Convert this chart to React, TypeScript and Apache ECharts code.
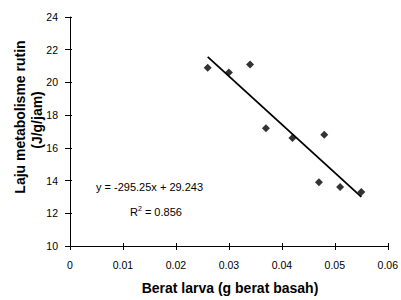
import React, { useEffect, useRef } from "react";
import * as echarts from "echarts";

const xValues = [0.026, 0.030, 0.034, 0.037, 0.042, 0.047, 0.048, 0.051, 0.055];
const yValues = [20.9, 20.6, 21.1, 17.2, 16.6, 13.9, 16.8, 13.6, 13.3];
const slope = -295.25;
const intercept = 29.243;
const equationText = "y = -295.25x + 29.243";
const r2Text = "0.856";
const xTitle = "Berat larva (g berat basah)";
const yTitle1 = "Laju metabolisme rutin";
const yTitle2 = "(J/g/jam)";

export default function App() {
  const ref = useRef<HTMLDivElement>(null);
  useEffect(() => {
    if (!ref.current) return;
    const chart = echarts.init(ref.current, null, { renderer: "svg" });
    const pts = xValues.map((x, i) => [x, yValues[i]]);
    const xMin = Math.min(...xValues);
    const xMax = Math.max(...xValues);
    const fit = [
      [xMin, slope * xMin + intercept],
      [xMax, slope * xMax + intercept],
    ];
    const font = "Liberation Sans, Arial, sans-serif";
    const axisLine = { show: true, lineStyle: { color: "#000", width: 1 } };
    chart.setOption({
      animation: false,
      backgroundColor: "#fff",
      grid: { left: 70, top: 17, right: 10, bottom: 54, containLabel: false },
      xAxis: [
        {
          type: "value",
          min: 0,
          max: 0.06,
          interval: 0.01,
          axisLine,
          axisTick: { show: true, length: 4, lineStyle: { color: "#000" } },
          axisLabel: {
            margin: 13,
            fontSize: 10.5,
            color: "#000",
            fontFamily: font,
            formatter: (v: number) => (v === 0 ? "0" : v.toFixed(2)),
          },
          splitLine: { show: false },
        },
        {
          type: "value",
          position: "bottom",
          min: 0,
          max: 0.06,
          interval: 0.01,
          axisLine: { show: false },
          axisTick: { show: true, inside: true, length: 3, lineStyle: { color: "#000" } },
          axisLabel: { show: false },
          splitLine: { show: false },
        },
      ],
      yAxis: [
        {
          type: "value",
          min: 10,
          max: 24,
          interval: 2,
          axisLine,
          axisTick: { show: true, length: 5, lineStyle: { color: "#000" } },
          axisLabel: { margin: 12, fontSize: 10.5, color: "#000", fontFamily: font },
          splitLine: { show: false },
        },
        {
          type: "value",
          position: "left",
          min: 10,
          max: 24,
          interval: 2,
          axisLine: { show: false },
          axisTick: { show: true, inside: true, length: 2, lineStyle: { color: "#000" } },
          axisLabel: { show: false },
          splitLine: { show: false },
        },
      ],
      series: [
        {
          type: "line",
          data: fit,
          showSymbol: false,
          symbol: "none",
          lineStyle: { color: "#000", width: 1.8 },
          silent: true,
          z: 2,
        },
        {
          type: "scatter",
          data: pts,
          symbol: "diamond",
          symbolSize: 8,
          itemStyle: { color: "#000" },
          z: 3,
        },
      ],
      graphic: [
        {
          type: "text",
          left: 96,
          top: 181,
          style: { text: equationText, fontSize: 11, fill: "#000", fontFamily: font },
        },
        {
          type: "text",
          left: 130,
          top: 205,
          style: {
            text: "R{sup|2} = " + r2Text,
            fontSize: 11,
            fill: "#000",
            fontFamily: font,
            rich: { sup: { fontSize: 7, verticalAlign: "top", padding: [0, 0, 6, 0], fontFamily: font } },
          },
        },
        {
          type: "text",
          x: 230,
          y: 288,
          style: {
            text: xTitle,
            fontSize: 14,
            fontWeight: "bold",
            fill: "#000",
            fontFamily: font,
            align: "center",
            verticalAlign: "middle",
          },
        },
        {
          type: "text",
          x: 20,
          y: 117,
          rotation: Math.PI / 2,
          style: {
            text: yTitle1,
            fontSize: 14,
            fontWeight: "bold",
            fill: "#000",
            fontFamily: font,
            align: "center",
            verticalAlign: "middle",
          },
        },
        {
          type: "text",
          x: 37,
          y: 120,
          rotation: Math.PI / 2,
          style: {
            text: yTitle2,
            fontSize: 14,
            fontWeight: "bold",
            fill: "#000",
            fontFamily: font,
            align: "center",
            verticalAlign: "middle",
          },
        },
      ],
    });
    return () => chart.dispose();
  }, []);
  return <div ref={ref} style={{ width: 401, height: 300, position: "fixed", left: 0, top: 0 }} />;
}
